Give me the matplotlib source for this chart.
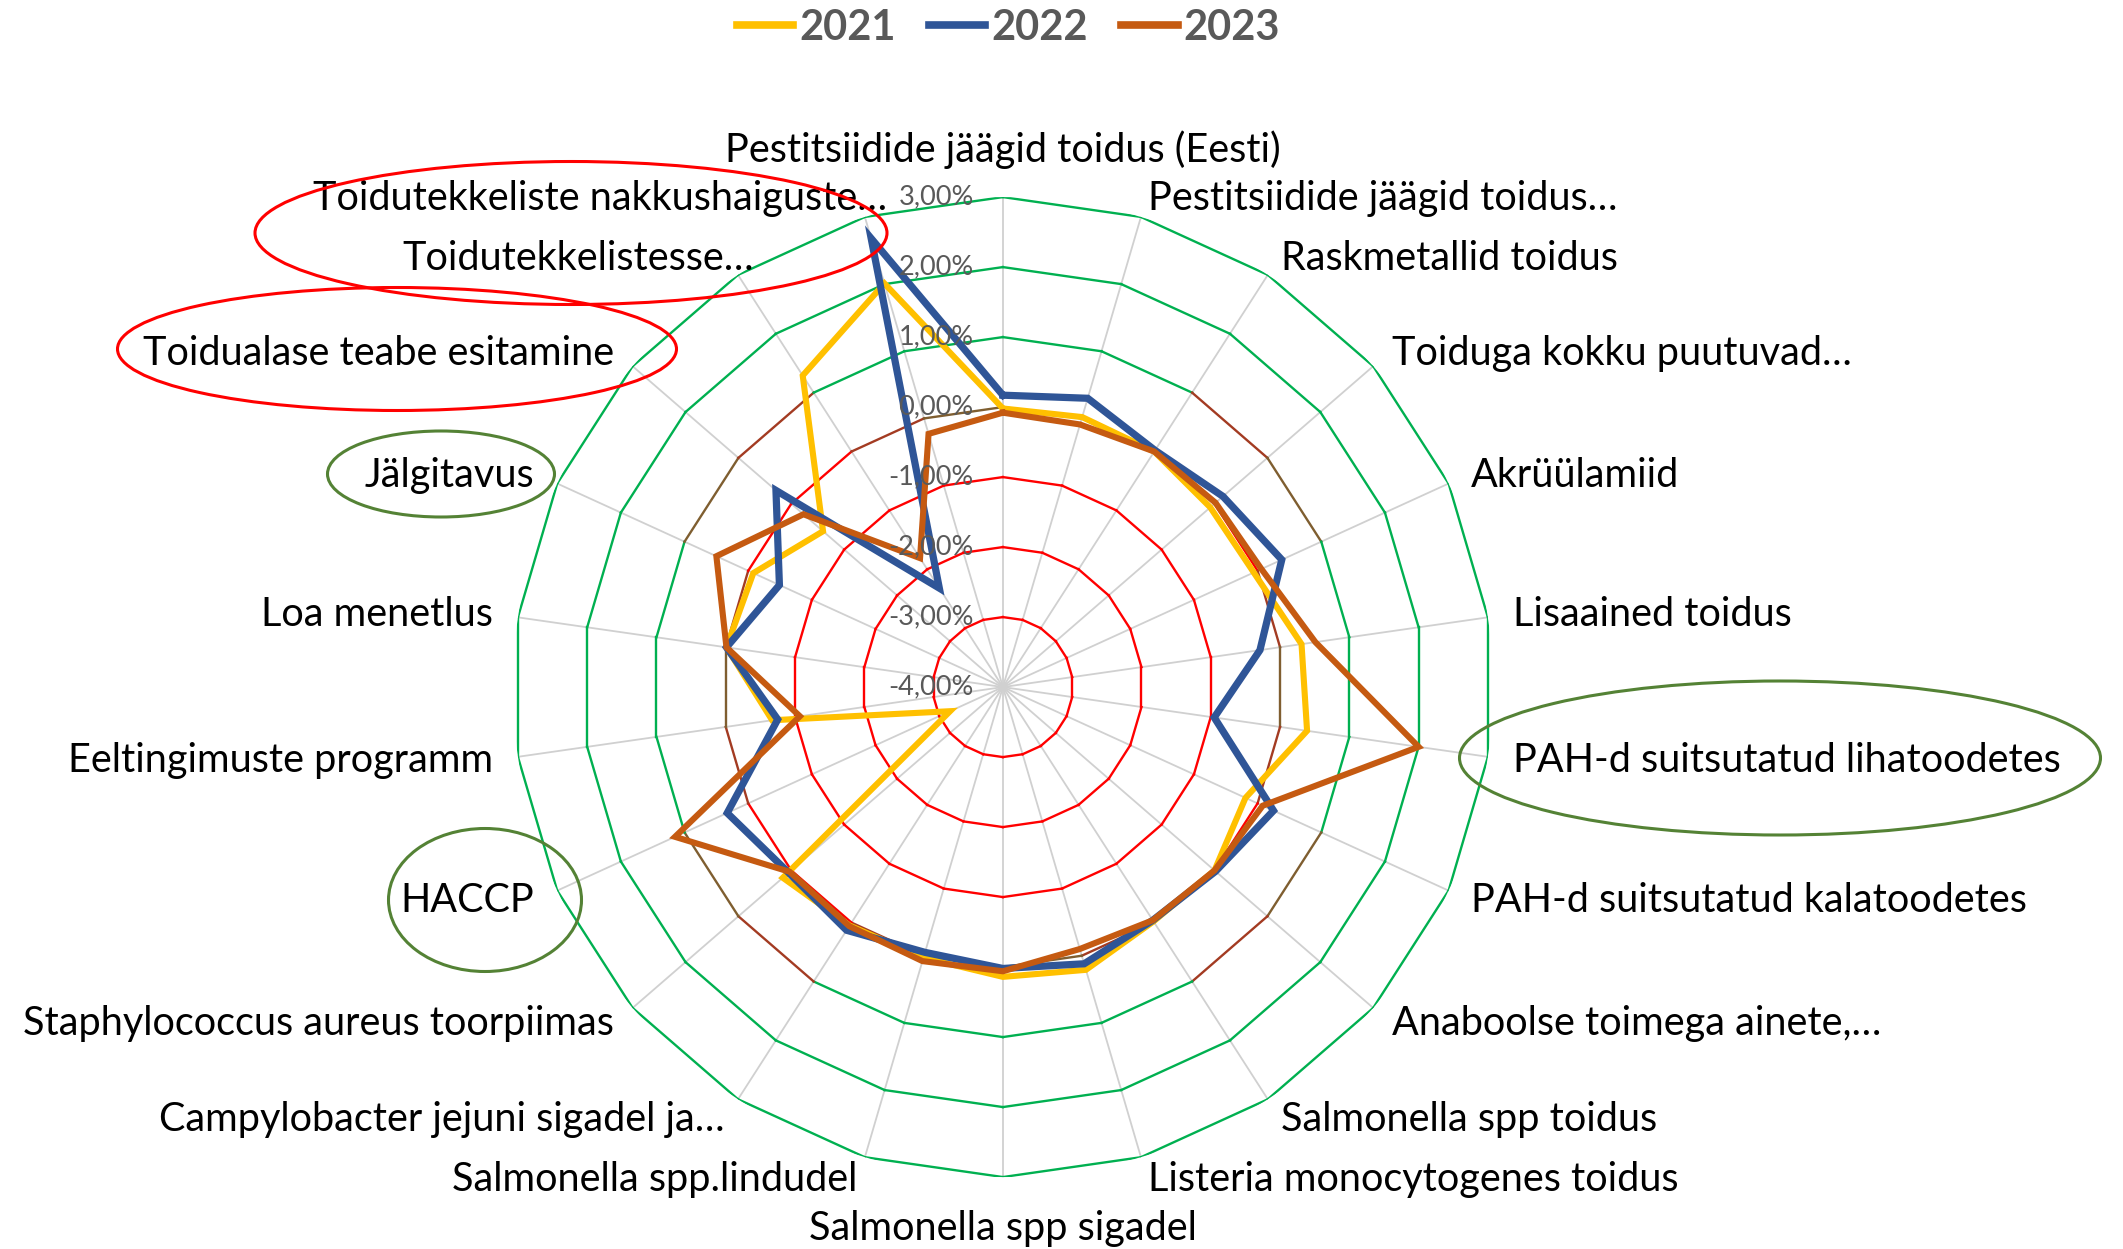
import numpy as np
import matplotlib.pyplot as plt
from matplotlib.patches import Ellipse

plt.rcParams['font.family'] = ['Lato', 'DejaVu Sans']

categories = [
    'Pestitsiidide jäägid toidus (Eesti)',
    'Pestitsiidide jäägid toidus…',
    'Raskmetallid toidus',
    'Toiduga kokku puutuvad…',
    'Akrüülamiid',
    'Lisaained toidus',
    'PAH-d suitsutatud lihatoodetes',
    'PAH-d suitsutatud kalatoodetes',
    'Anaboolse toimega ainete,…',
    'Salmonella spp toidus',
    'Listeria monocytogenes toidus',
    'Salmonella spp sigadel',
    'Salmonella spp.lindudel',
    'Campylobacter jejuni sigadel ja…',
    'Staphylococcus aureus toorpiimas',
    'HACCP',
    'Eeltingimuste programm',
    'Loa menetlus',
    'Jälgitavus',
    'Toidualase teabe esitamine',
    'Toidutekkelistesse…',
    'Toidutekkeliste nakkushaiguste…',
]

# values in percent
y2021 = [-0.02, 0.02, 0.00, -0.08, -0.06, 0.31, 0.39, -0.19, 0.00, -0.02, 0.21,
         0.14, 0.03, 0.05, 0.16, -3.17, -0.67, -0.01, -0.08, -0.60, 1.29, 2.01]
y2022 = [0.17, 0.30, 0.02, 0.16, 0.38, -0.29, -0.95, 0.25, 0.02, -0.04, 0.12,
         0.02, -0.05, 0.13, 0.05, 0.33, -0.75, -0.01, -0.49, 0.29, -2.32, 2.68]
y2023 = [-0.08, -0.09, 0.00, 0.02, 0.06, 0.51, 2.00, 0.08, 0.00, -0.04, -0.10,
         0.06, 0.08, 0.06, 0.03, 1.15, -1.07, -0.01, 0.50, -0.23, -1.81, -0.23]

series = [('2021', y2021, '#FFC000', 4.4),
          ('2022', y2022, '#2F5597', 5.2),
          ('2023', y2023, '#C55A11', 4.4)]

ticks = [-4, -3, -2, -1, 0, 1, 2, 3]
tick_labels = ['-4,00%', '-3,00%', '-2,00%', '-1,00%', '0,00%', '1,00%', '2,00%', '3,00%']


def ring_color(x, y):
    # rectangular gradient: red inside, brown, green outside
    s = max(abs(x), abs(y))
    if s < 3.5:
        return '#FF0000'
    if s < 3.85:
        return '#A33B22'
    if s < 4.2:
        return '#7F5E30'
    if s < 4.45:
        return '#5A7C36'
    return '#00B050'


fig = plt.figure(figsize=(21.23, 12.49), dpi=100)
ax = fig.add_axes([0.2416, 0.0576, 0.4616, 0.7846], projection='polar')
ax.set_theta_zero_location('N')
ax.set_theta_direction(-1)
ax.set_ylim(-4, 3)
ax.grid(False)
ax.set_xticks([])
ax.set_yticks([])
ax.spines['polar'].set_visible(False)
ax.patch.set_alpha(0)

n = len(categories)
theta = np.arange(n) * 2 * np.pi / n
theta_c = np.append(theta, 2 * np.pi)

# spokes
for t in theta:
    ax.plot([t, t], [-4, 3], color='#D0D0D0', lw=1.3, zorder=1)

# rings, colour per segment
for v in ticks[1:]:
    for k in range(n):
        t0, t1 = theta_c[k], theta_c[k + 1]
        r = v + 4
        mx = r * (np.sin(t0) + np.sin(t1)) / 2
        my = r * (np.cos(t0) + np.cos(t1)) / 2
        ax.plot([t0, t1], [v, v], color=ring_color(mx, my), lw=1.7, zorder=2)

# series
handles = []
for name, vals, col, lw in series:
    h, = ax.plot(theta_c, vals + vals[:1], color=col, lw=lw, zorder=5,
                 solid_joinstyle='miter', label=name)
    handles.append(h)

# radial tick labels
for v, lbl in zip(ticks, tick_labels):
    ax.annotate(lbl, xy=(0, v), xytext=(-21, 0), textcoords='offset points',
                ha='right', va='center', fontsize=19.5, color='#595959', zorder=6)

# category labels
extra = {20: 21, 21: 21}
for i, (t, lbl) in enumerate(zip(theta, categories)):
    dx, dy = np.sin(t), np.cos(t)
    ox = 18 * dx
    oy = 14 * dy if dy > 0 else 17 * dy
    if i == 0:
        ha, va = 'center', 'bottom'
        oy = 20
    elif i == n // 2:
        ha, va = 'center', 'top'
        oy = -24
    elif i < n // 2:
        ha, va = 'left', 'center'
    else:
        ha, va = 'right', 'center'
    ox += extra.get(i, 0)
    ax.annotate(lbl, xy=(t, 3), xytext=(ox, oy), textcoords='offset points',
                ha=ha, va=va, fontsize=28.5, color='black', annotation_clip=False)

# legend
leg = fig.legend(handles=handles, loc='center', bbox_to_anchor=(0.475, 1 - 28 / 1249),
                 ncol=3, frameon=False, handlelength=1.35, handletextpad=0.15,
                 columnspacing=0.8, prop={'size': 30, 'weight': 'bold'},
                 labelcolor='#595959')
for lh in leg.get_lines():
    lh.set_linewidth(5.5)

# highlight ellipses (pixel coordinates of the picture)
ov = fig.add_axes([0, 0, 1, 1])
ov.set_xlim(0, 2123)
ov.set_ylim(1249, 0)
ov.axis('off')
ov.patch.set_alpha(0)
marks = [((571, 233), 632, 143, '#FF0000'),
         ((397, 349), 559, 123, '#FF0000'),
         ((441, 474), 227, 86, '#548235'),
         ((485, 900), 193, 143, '#548235'),
         ((1780, 758), 641, 154, '#548235')]
for c, w, h, col in marks:
    ov.add_patch(Ellipse(c, w, h, fill=False, edgecolor=col, lw=2.2))

fig.savefig('out.png', dpi=100, facecolor='white')
